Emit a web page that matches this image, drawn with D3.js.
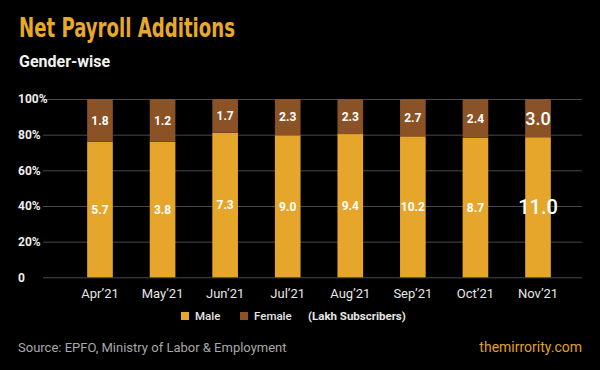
<!DOCTYPE html>
<html>
<head>
<meta charset="utf-8">
<script src="https://cdn.jsdelivr.net/npm/d3@7"></script>
<style>
  html, body { margin: 0; padding: 0; background: #000; }
  svg { display: block; font-family: Roboto, 'Noto Sans', sans-serif; }
</style>
</head>
<body>
<div id="chart"></div>
<script>
const months = ['Apr\u201921', 'May\u201921', 'Jun\u201921', 'Jul\u201921', 'Aug\u201921', 'Sep\u201921', 'Oct\u201921', 'Nov\u201921'];
const male = [5.7, 3.8, 7.3, 9.0, 9.4, 10.2, 8.7, 11.0];
const female = [1.8, 1.2, 1.7, 2.3, 2.3, 2.7, 2.4, 3.0];
const yTicks = [0, 0.2, 0.4, 0.6, 0.8, 1];
const yTickLabels = ['0', '20%', '40%', '60%', '80%', '100%'];

const width = 600, height = 370;
const margin = { top: 99, bottom: 93, left: 43, right: 18 };
const gold = '#e5a62b', brown = '#8a5225';

const svg = d3.select('#chart').append('svg')
  .attr('width', width)
  .attr('height', height);

svg.append('rect').attr('width', width).attr('height', height).attr('fill', '#000');

const rows = months.map((m, i) => {
  const total = male[i] + female[i];
  return { month: m, male: male[i], female: female[i], mShare: male[i] / total, i };
});

const x = d3.scaleBand()
  .domain(months)
  .range([68.7, 569.3])
  .paddingInner(0.59)
  .paddingOuter(0.295);

const y = d3.scaleLinear()
  .domain([0, 1])
  .range([height - margin.bottom + 0.3, margin.top]);

// grid
const yAxis = d3.axisLeft(y)
  .tickValues(yTicks)
  .tickSize(-(width - margin.right - margin.left))
  .tickFormat('');
svg.append('g')
  .attr('class', 'y-grid')
  .attr('transform', `translate(${margin.left},0)`)
  .call(yAxis);
svg.select('.y-grid').select('path').remove();
svg.select('.y-grid').selectAll('line')
  .attr('stroke', '#4a4a4a')
  .attr('stroke-width', 1);

// y labels, left aligned
svg.append('g').selectAll('text')
  .data(yTicks)
  .join('text')
  .attr('x', 18)
  .attr('y', d => y(d))
  .attr('dy', '0.36em')
  .attr('fill', '#eeeeee')
  .attr('font-size', 12)
  .attr('font-weight', 700)
  .text((d, i) => yTickLabels[i]);

// bars
const bars = svg.append('g').attr('class', 'bars');
bars.selectAll('rect.male')
  .data(rows)
  .join('rect')
  .attr('class', 'male')
  .attr('x', d => x(d.month))
  .attr('width', x.bandwidth())
  .attr('y', d => y(d.mShare))
  .attr('height', d => y(0) - y(d.mShare))
  .attr('fill', gold);
bars.selectAll('rect.female')
  .data(rows)
  .join('rect')
  .attr('class', 'female')
  .attr('x', d => x(d.month))
  .attr('width', x.bandwidth())
  .attr('y', y(1))
  .attr('height', d => y(d.mShare) - y(1))
  .attr('fill', brown);

// value labels
const last = rows.length - 1;
bars.selectAll('text.mlab')
  .data(rows)
  .join('text')
  .attr('class', 'mlab')
  .attr('x', d => x(d.month) + x.bandwidth() / 2)
  .attr('y', d => (y(0) + y(d.mShare)) / 2)
  .attr('dy', '0.36em')
  .attr('text-anchor', 'middle')
  .attr('fill', '#fff')
  .attr('font-size', d => d.i === last ? 20 : 12)
  .attr('font-weight', d => d.i === last ? 500 : 700)
  .text(d => d.male.toFixed(1));
bars.selectAll('text.flab')
  .data(rows)
  .join('text')
  .attr('class', 'flab')
  .attr('x', d => x(d.month) + x.bandwidth() / 2)
  .attr('y', d => (y(1) + y(d.mShare)) / 2)
  .attr('dy', '0.36em')
  .attr('text-anchor', 'middle')
  .attr('fill', '#fff')
  .attr('font-size', d => d.i === last ? 18 : 12)
  .attr('font-weight', d => d.i === last ? 500 : 700)
  .text(d => d.female.toFixed(1));

// x axis labels
const xAxis = d3.axisBottom(x).tickSize(0).tickPadding(0);
const xg = svg.append('g')
  .attr('class', 'x-axis')
  .attr('transform', `translate(0, ${y(0)})`)
  .call(xAxis);
xg.select('path').remove();
xg.selectAll('text')
  .attr('y', 21)
  .attr('dy', 0)
  .attr('font-size', 13)
  .attr('font-family', 'Roboto, sans-serif')
  .attr('fill', '#e6e6e6');

// legend
const legend = svg.append('g').attr('class', 'legend');
const legendItems = [
  { label: 'Male', color: gold, x: 181 },
  { label: 'Female', color: brown, x: 240 }
];
legendItems.forEach(d => {
  legend.append('rect')
    .attr('x', d.x).attr('y', 312)
    .attr('width', 8).attr('height', 8)
    .attr('fill', d.color);
  legend.append('text')
    .attr('x', d.x + 14).attr('y', 316)
    .attr('dy', '0.36em')
    .attr('font-size', 11.5)
    .attr('font-weight', 500)
    .attr('fill', '#e6e6e6')
    .text(d.label);
});
legend.append('text')
  .attr('x', 308).attr('y', 316)
  .attr('dy', '0.36em')
  .attr('font-size', 11.5)
  .attr('font-weight', 700)
  .attr('fill', '#e6e6e6')
  .text('(Lakh Subscribers)');

// titles
svg.append('text')
  .attr('x', 19).attr('y', 37)
  .attr('font-family', "'Liberation Sans Narrow', 'DejaVu Sans Condensed', sans-serif")
  .attr('font-size', 26)
  .attr('font-weight', 700)
  .attr('fill', '#e8a82c')
  .attr('textLength', 216)
  .attr('lengthAdjust', 'spacingAndGlyphs')
  .text('Net Payroll Additions');
svg.append('text')
  .attr('x', 19).attr('y', 67)
  .attr('font-size', 16)
  .attr('font-weight', 700)
  .attr('fill', '#f2f2f2')
  .text('Gender-wise');

// footer
svg.append('text')
  .attr('x', 18).attr('y', 347)
  .attr('dy', '0.36em')
  .attr('font-size', 13)
  .attr('fill', '#a8a8a8')
  .text('Source: EPFO, Ministry of Labor & Employment');
svg.append('text')
  .attr('x', 582).attr('y', 347)
  .attr('dy', '0.36em')
  .attr('text-anchor', 'end')
  .attr('font-size', 14)
  .attr('fill', '#e0a02a')
  .text('themirrority.com');
</script>
</body>
</html>
